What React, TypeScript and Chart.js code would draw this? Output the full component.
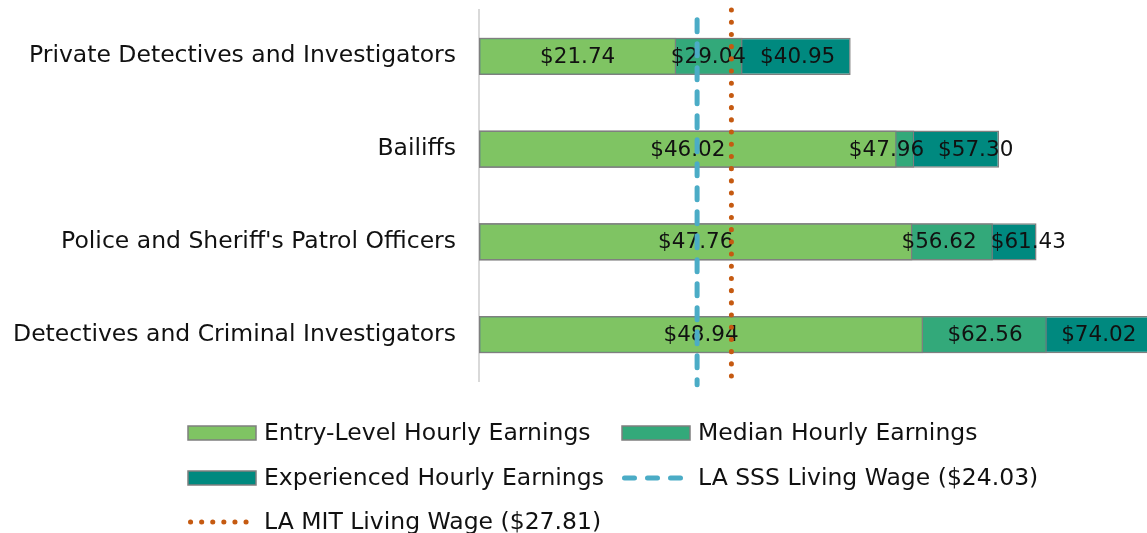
import React, { useEffect, useRef } from "react";
import { Chart, registerables } from "chart.js";

Chart.register(...registerables);

const categories = [
  "Private Detectives and Investigators",
  "Bailiffs",
  "Police and Sheriff's Patrol Officers",
  "Detectives and Criminal Investigators",
];
const entryLevel = [21.74, 46.02, 47.76, 48.94];
const medianWage = [29.04, 47.96, 56.62, 62.56];
const experiencedWage = [40.95, 57.3, 61.43, 74.02];
const sssWage = 24.03;
const mitWage = 27.81;
const seriesNames = [
  "Entry-Level Hourly Earnings",
  "Median Hourly Earnings",
  "Experienced Hourly Earnings",
  "LA SSS Living Wage ($24.03)",
  "LA MIT Living Wage ($27.81)",
];

const FONT = "'DejaVu Sans', sans-serif";
const COLORS = ["#7FC463", "#33A97A", "#00897F", "#4BACC6", "#C55A11"];
const BORDER = "#7F7F7F";

const fmt = (v: number) => "$" + v.toFixed(2);

const labelPlugin = {
  id: "segLabels",
  afterDatasetDraw(chart: any, args: any) {
    if (args.index !== 0) return;
    const ctx = chart.ctx;
    const x = chart.scales.x;
    const y = chart.scales.y;
    ctx.save();
    ctx.font = `21.5px ${FONT}`;
    ctx.fillStyle = "#111";
    ctx.textAlign = "center";
    ctx.textBaseline = "middle";
    categories.forEach((_, i) => {
      const bounds = [0, entryLevel[i], medianWage[i], experiencedWage[i]];
      const vals = [entryLevel[i], medianWage[i], experiencedWage[i]];
      const items = vals.map((v, k) => {
        const cx = x.getPixelForValue((bounds[k] + bounds[k + 1]) / 2);
        const w = ctx.measureText(fmt(v)).width;
        return { text: fmt(v), cx, w };
      });
      for (let iter = 0; iter < 4; iter++) {
        for (let k = 1; k < items.length; k++) {
          const a = items[k - 1];
          const b = items[k];
          const overlap = a.cx + a.w / 2 + 14 - (b.cx - b.w / 2);
          if (overlap > 0) {
            a.cx -= overlap / 2;
            b.cx += overlap / 2;
          }
        }
      }
      const cy = y.getPixelForValue(i);
      items.forEach((it) => ctx.fillText(it.text, it.cx, cy + 1));
    });
    ctx.restore();
  },
};

const legendPlugin = {
  id: "gridLegend",
  afterDraw(chart: any) {
    const ctx = chart.ctx;
    const colX = [188, 622];
    const rowY = [433, 478, 522];
    ctx.save();
    ctx.font = `23.5px ${FONT}`;
    ctx.textBaseline = "middle";
    ctx.textAlign = "left";
    chart.data.datasets.forEach((ds: any, i: number) => {
      const sx = colX[i % 2];
      const sy = rowY[Math.floor(i / 2)];
      if (ds.type === "line") {
        ctx.save();
        ctx.strokeStyle = ds.borderColor;
        ctx.lineWidth = ds.borderWidth;
        ctx.lineCap = "round";
        ctx.setLineDash(ds.legendDash);
        ctx.beginPath();
        ctx.moveTo(sx + 2.5, sy);
        ctx.lineTo(sx + 66, sy);
        ctx.stroke();
        ctx.restore();
      } else {
        ctx.fillStyle = ds.backgroundColor;
        ctx.fillRect(sx, sy - 7, 68, 14);
        ctx.strokeStyle = BORDER;
        ctx.lineWidth = 1.5;
        ctx.strokeRect(sx, sy - 7, 68, 14);
      }
      ctx.fillStyle = "#111";
      ctx.fillText(ds.label, sx + 76, sy + 1);
    });
    ctx.restore();
  },
};

export default function App() {
  const ref = useRef<HTMLCanvasElement | null>(null);
  useEffect(() => {
    if (!ref.current) return;
    Chart.defaults.font.family = FONT;
    const barCommon = {
      type: "bar" as const,
      grouped: false,
      barPercentage: 0.4,
      categoryPercentage: 1,
      borderColor: BORDER,
      borderWidth: 1.5,
      borderSkipped: false,
      xAxisID: "x",
      yAxisID: "y",
    };
    const chart = new Chart(ref.current, {
      type: "bar",
      data: {
        labels: categories,
        datasets: [
          { ...barCommon, label: seriesNames[0], data: entryLevel, backgroundColor: COLORS[0], order: 1 },
          { ...barCommon, label: seriesNames[1], data: medianWage, backgroundColor: COLORS[1], order: 2 },
          { ...barCommon, label: seriesNames[2], data: experiencedWage, backgroundColor: COLORS[2], order: 3 },
          {
            type: "line",
            label: seriesNames[3],
            data: [
              { x: sssWage, y: 0.974 },
              { x: sssWage, y: -0.01 },
            ],
            indexAxis: "y",
            xAxisID: "x",
            yAxisID: "y2",
            borderColor: COLORS[3],
            borderWidth: 5,
            borderDash: [12, 12],
            legendDash: [10, 13],
            borderCapStyle: "round",
            pointRadius: 0,
            clip: false,
            order: 0,
          } as any,
          {
            type: "line",
            label: seriesNames[4],
            data: [
              { x: mitWage, y: 1.0 },
              { x: mitWage, y: 0.01 },
            ],
            indexAxis: "y",
            xAxisID: "x",
            yAxisID: "y2",
            borderColor: COLORS[4],
            borderWidth: 5,
            borderDash: [0.1, 12.1],
            legendDash: [0.1, 11],
            borderCapStyle: "round",
            pointRadius: 0,
            clip: false,
            order: 0,
          } as any,
        ],
      },
      options: {
        indexAxis: "y",
        animation: false,
        responsive: false,
        layout: { padding: { top: 10, bottom: 152, left: 0, right: 0 } },
        plugins: { legend: { display: false }, tooltip: { enabled: false } },
        scales: {
          x: {
            type: "linear",
            min: 0,
            max: 73.6,
            display: false,
          },
          y: {
            type: "category",
            position: "left",
            grid: { display: false, drawTicks: false },
            border: { display: true, color: "#D9D9D9", width: 2 },
            ticks: { font: { size: 23.5, family: FONT }, color: "#111", padding: 23 },
            afterFit: (s: any) => {
              s.width = 479;
              s.paddingTop = 0;
              s.paddingBottom = 0;
            },
          },
          y2: {
            type: "linear",
            min: 0,
            max: 1,
            offset: false,
            display: false,
            grid: { offset: false },
          },
        },
      } as any,
      plugins: [labelPlugin, legendPlugin],
    });
    return () => chart.destroy();
  }, []);
  return (
    <div style={{ position: "absolute", left: 0, top: 0, width: 1147, height: 533, overflow: "hidden", background: "#fff" }}>
      <canvas ref={ref} width={1147} height={533} style={{ display: "block" }} />
    </div>
  );
}
